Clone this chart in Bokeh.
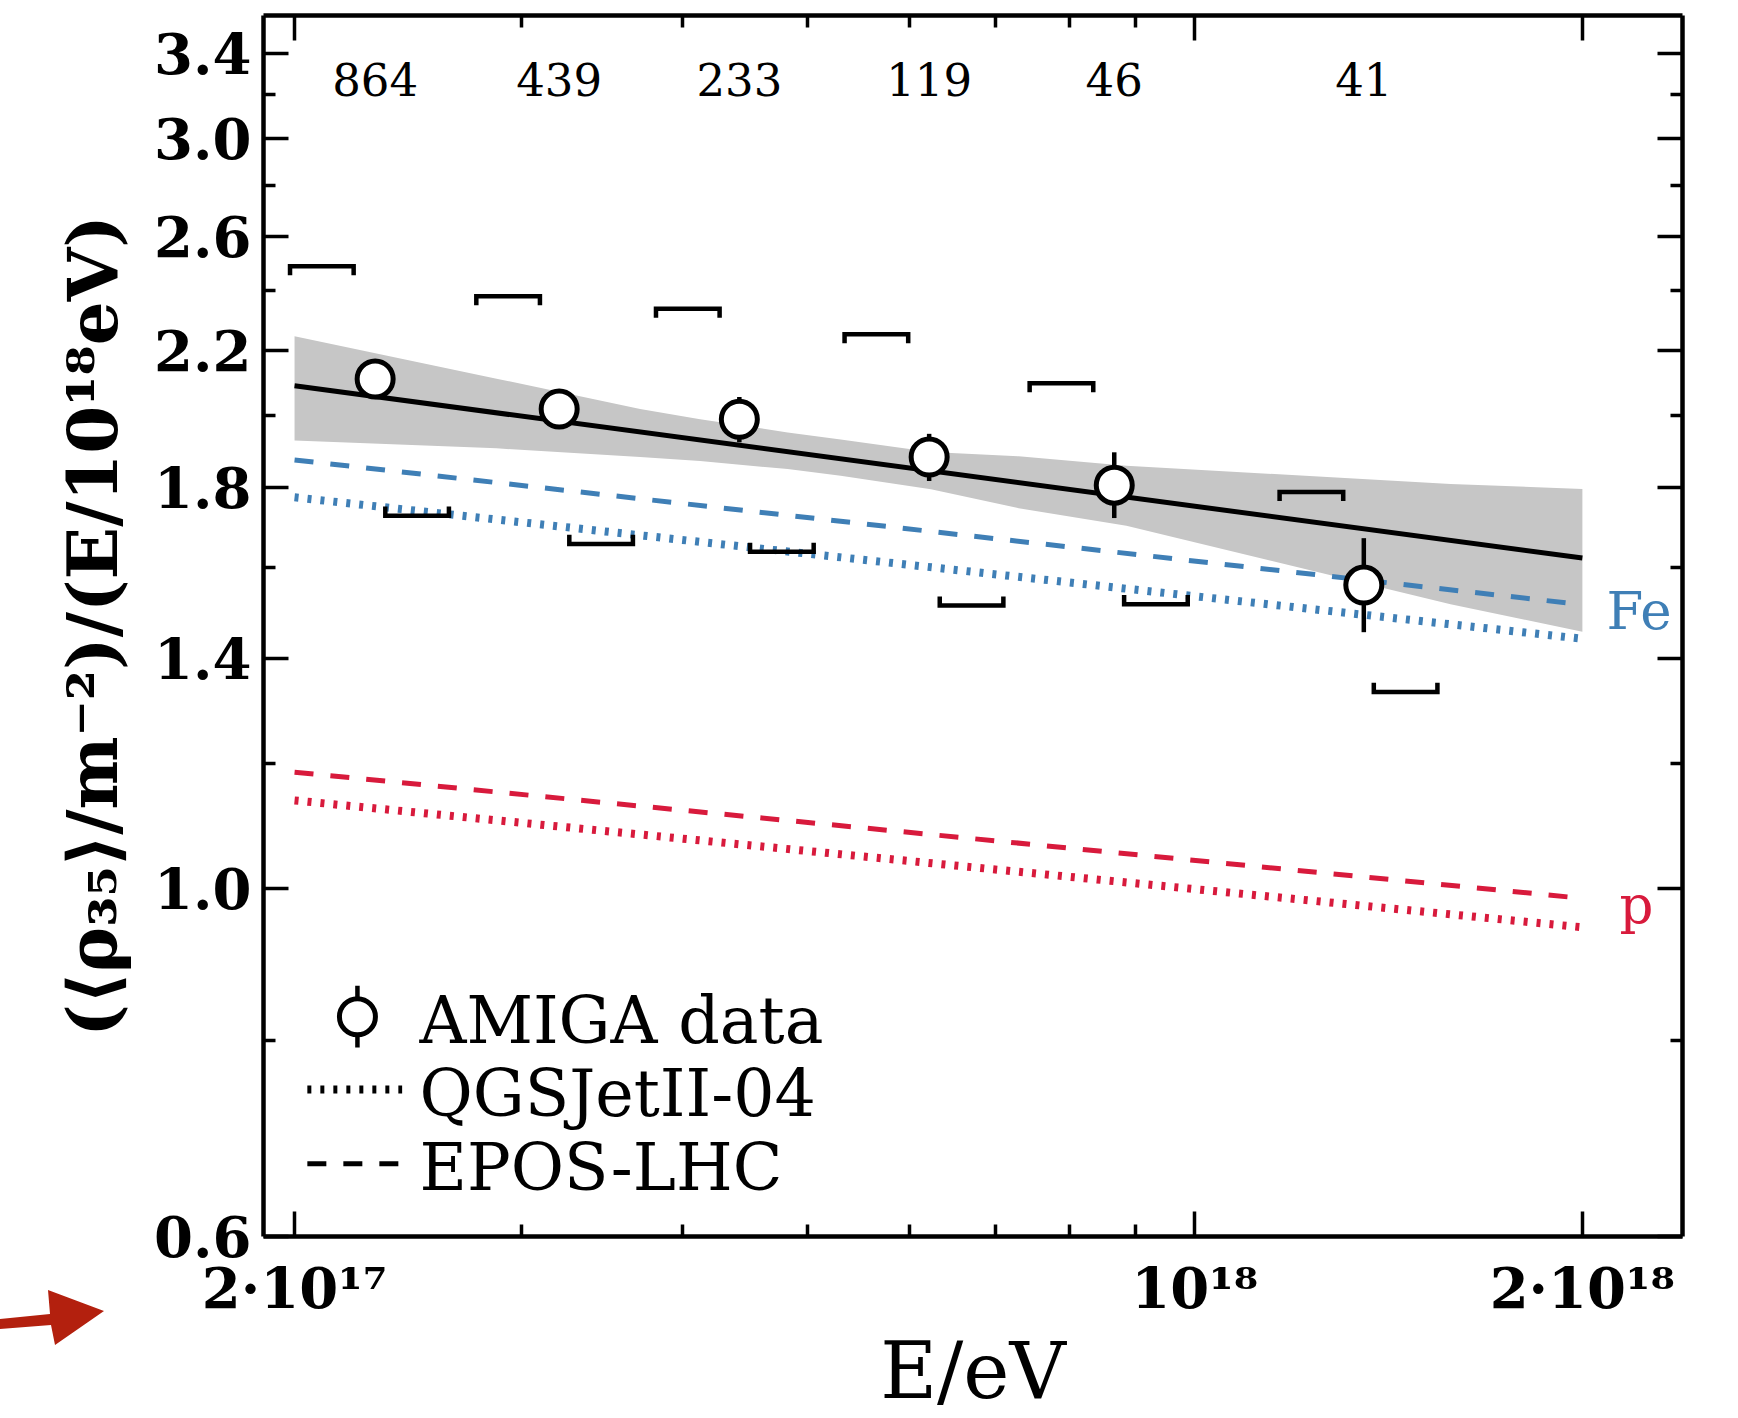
from bokeh.plotting import figure
from bokeh.models import Range1d, LinearScale, LogAxis, FixedTicker, InlineStyleSheet
from bokeh.core.properties import value
from bokeh.embed import file_html
from bokeh.resources import INLINE

# ---------------- data ----------------
energy = [2.31e17, 3.21e17, 4.43e17, 6.22e17, 8.66e17, 1.353e18]
rho = [2.109, 2.018, 1.988, 1.881, 1.805, 1.559]
rho_err_up = [0.035, 0.05, 0.066, 0.065, 0.089, 0.111]
rho_err_lo = [0.035, 0.05, 0.066, 0.065, 0.085, 0.104]
n_events = ["864", "439", "233", "119", "46", "41"]

sys_up_energy = [2.10e17, 2.93e17, 4.04e17, 5.66e17, 7.88e17, 1.232e18]
sys_up_rho = [2.488, 2.381, 2.338, 2.252, 2.096, 1.787]
sys_lo_energy = [2.49e17, 3.46e17, 4.78e17, 6.71e17, 9.33e17, 1.458e18]
sys_lo_rho = [1.726, 1.656, 1.637, 1.513, 1.516, 1.333]

fit_energy = [2.0e17, 2.0e18]
fit_rho = [2.088, 1.622]

band_energy = [2.0e17, 2.87e17, 3.71e17, 4.13e17, 4.83e17, 5.31e17, 6.24e17, 7.3e17, 8.85e17, 1.58e18, 2.0e18]
band_hi = [2.245, 2.11, 2.018, 1.988, 1.95, 1.93, 1.895, 1.883, 1.857, 1.808, 1.795]
band_lo = [1.927, 1.905, 1.881, 1.870, 1.848, 1.830, 1.794, 1.745, 1.701, 1.516, 1.456]

model_energy = [2.0e17, 2.0e18]
fe_epos = [1.873, 1.515]
fe_qgs = [1.773, 1.441]
p_epos = [1.185, 0.985]
p_qgs = [1.137, 0.944]

x_ticks = [2e17, 1e18, 2e18]
x_tick_labels = ["2·10¹⁷", "10¹⁸", "2·10¹⁸"]
x_minor = [3e17, 4e17, 5e17, 6e17, 7e17, 8e17, 9e17]
y_ticks = [0.6, 1.0, 1.4, 1.8, 2.2, 2.6, 3.0, 3.4]
y_tick_labels = ["0.6", "1.0", "1.4", "1.8", "2.2", "2.6", "3.0", "3.4"]
y_minor = [0.8, 1.2, 1.6, 2.0, 2.4, 2.8, 3.2]

# ---------------- style ----------------
BLUE = "#3f7fb6"
RED = "#d81a3c"
GREY = "#c6c6c6"
ARROW_RED = "#b3200e"
SERIF = "DejaVu Serif"
DASHED = "19 17"
DOTTED = "4 9"
BR_HW = 0.0247   # bracket half width (decades of E)
BR_LEG = 0.0058  # bracket leg length (decades of rho)

p = figure(width=1738, height=1418, x_axis_type="log", y_axis_type="log",
           x_range=Range1d(1.892e17, 2.392e18), y_range=Range1d(0.6, 3.593),
           output_backend="svg", toolbar_location=None,
           min_border_left=263, min_border_right=56, min_border_top=15, min_border_bottom=179)
p.grid.visible = False
p.outline_line_color = None
p.background_fill_color = "white"
p.border_fill_color = "white"
p.extra_x_ranges = {"fx": Range1d(0, 1)}
p.extra_y_ranges = {"fy": Range1d(0, 1)}
p.extra_x_scales = {"fx": LinearScale()}
p.extra_y_scales = {"fy": LinearScale()}


def style_axis(ax, labels):
    ax.axis_line_width = 4.5
    ax.axis_line_color = "black"
    ax.major_tick_in = 25
    ax.major_tick_out = 0
    ax.minor_tick_in = 12
    ax.minor_tick_out = 0
    ax.major_tick_line_width = 3.5
    ax.minor_tick_line_width = 3.5
    ax.major_tick_line_color = "black"
    ax.minor_tick_line_color = "black"
    ax.major_label_text_color = "black"
    ax.axis_label_text_color = "black"
    if not labels:
        ax.major_label_text_font_size = "0px"
        ax.major_label_standoff = 0


xt = FixedTicker(ticks=x_ticks, minor_ticks=x_minor)
yt = FixedTicker(ticks=y_ticks, minor_ticks=y_minor)

xa = p.xaxis[0]
xa.ticker = xt
style_axis(xa, True)
xa.major_label_overrides = dict(zip(x_ticks, x_tick_labels))
xa.major_label_text_font = SERIF
xa.major_label_text_font_style = "bold"
xa.major_label_text_font_size = "56px"
xa.major_label_standoff = 18
xa.axis_label = "E/eV"
xa.axis_label_text_font = SERIF
xa.axis_label_text_font_style = "normal"
xa.axis_label_text_font_size = "78px"
xa.axis_label_standoff = 2

ya = p.yaxis[0]
ya.ticker = yt
style_axis(ya, True)
ya.major_label_overrides = dict(zip(y_ticks, y_tick_labels))
ya.major_label_text_font = SERIF
ya.major_label_text_font_style = "bold"
ya.major_label_text_font_size = "56px"
ya.major_label_standoff = 12
ya.axis_label = "(⟨ρ₃₅⟩/m⁻²)/(E/10¹⁸eV)"
ya.axis_label_text_font = SERIF
ya.axis_label_text_font_style = "bold"
ya.axis_label_text_font_size = "69px"
ya.axis_label_standoff = 18

top = LogAxis(ticker=FixedTicker(ticks=x_ticks, minor_ticks=x_minor))
top.major_label_overrides = {t: "" for t in x_ticks}
style_axis(top, False)
p.add_layout(top, "above")
right = LogAxis(ticker=FixedTicker(ticks=y_ticks, minor_ticks=y_minor))
right.major_label_overrides = {t: "" for t in y_ticks}
style_axis(right, False)
p.add_layout(right, "right")

# ---------------- glyphs ----------------
p.varea(x=band_energy, y1=band_lo, y2=band_hi, fill_color=GREY, fill_alpha=1.0)

p.line(model_energy, fe_epos, line_color=BLUE, line_width=5, line_dash=DASHED)
p.line(model_energy, fe_qgs, line_color=BLUE, line_width=8, line_dash=DOTTED)
p.line(model_energy, p_epos, line_color=RED, line_width=5, line_dash=DASHED)
p.line(model_energy, p_qgs, line_color=RED, line_width=8, line_dash=DOTTED)

p.line(fit_energy, fit_rho, line_color="black", line_width=5)


def bracket_paths(es, rs, legs_down):
    xs, ys = [], []
    for e, r in zip(es, rs):
        x0 = e * 10 ** (-BR_HW)
        x1 = e * 10 ** BR_HW
        yl = r * 10 ** (-BR_LEG if legs_down else BR_LEG)
        xs.append([x0, x0, x1, x1])
        ys.append([yl, r, r, yl])
    return xs, ys


bx, by = bracket_paths(sys_up_energy, sys_up_rho, True)
p.multi_line(bx, by, line_color="black", line_width=4.5, line_join="miter")
bx, by = bracket_paths(sys_lo_energy, sys_lo_rho, False)
p.multi_line(bx, by, line_color="black", line_width=4.5, line_join="miter")

err_hi = [r + u for r, u in zip(rho, rho_err_up)]
err_lo = [r - d for r, d in zip(rho, rho_err_lo)]
p.segment(x0=energy, y0=err_lo, x1=energy, y1=err_hi, line_color="black", line_width=4.5)
p.scatter(energy, rho, marker="circle", size=36, fill_color="white", line_color="black", line_width=5)

# event counts along the top
p.text(x=energy, y=[0.9475] * len(energy), text=n_events, y_range_name="fy",
       text_font=value(SERIF), text_font_size="45px", text_align="center",
       text_baseline="alphabetic", text_color="black")

# composition labels
p.text(x=[0.9464], y=[0.513], text=["Fe"], x_range_name="fx", y_range_name="fy",
       text_font=value(SERIF), text_font_size="53px", text_align="left",
       text_baseline="alphabetic", text_color=BLUE)
p.text(x=[0.9556], y=[0.272], text=["p"], x_range_name="fx", y_range_name="fy",
       text_font=value(SERIF), text_font_size="53px", text_align="left",
       text_baseline="alphabetic", text_color=RED)

# ---------------- legend (axes-fraction coordinates) ----------------
LEG_MX, LEG_MY, LEG_EB = 0.0662, 0.180, 0.0253
p.segment(x0=[LEG_MX], y0=[LEG_MY - LEG_EB], x1=[LEG_MX], y1=[LEG_MY + LEG_EB],
          x_range_name="fx", y_range_name="fy", line_color="black", line_width=4.5)
p.scatter([LEG_MX], [LEG_MY], x_range_name="fx", y_range_name="fy", marker="circle",
          size=36, fill_color="white", line_color="black", line_width=5)
p.line([0.0309, 0.0977], [0.1204, 0.1204], x_range_name="fx", y_range_name="fy",
       line_color="black", line_width=8, line_dash=DOTTED)
p.line([0.0309, 0.0977], [0.0595, 0.0595], x_range_name="fx", y_range_name="fy",
       line_color="black", line_width=5, line_dash=DASHED)
p.text(x=[0.1099, 0.1099, 0.1099], y=[0.1765, 0.1168, 0.0566],
       text=["AMIGA data", "QGSJetII-04", "EPOS-LHC"], x_range_name="fx", y_range_name="fy",
       text_font=value(SERIF), text_font_size="65px", text_align="left",
       text_baseline="alphabetic", text_color="black")

# red pointer arrow in the bottom-left margin (pure CSS shape, outside the plot frame)
ARROW_CSS = """
:host { position: relative; }
:host::after {
  content: "";
  position: absolute;
  left: 0px;
  top: 1280px;
  width: 110px;
  height: 75px;
  background: %s;
  clip-path: polygon(0px 39px, 50px 34px, 48px 10px, 104px 31px, 55px 65px, 51px 45px, 0px 49px);
  z-index: 10;
  pointer-events: none;
}
""" % ARROW_RED
p.stylesheets = [InlineStyleSheet(css=ARROW_CSS)]

open("out.html", "w").write(file_html(p, INLINE))
